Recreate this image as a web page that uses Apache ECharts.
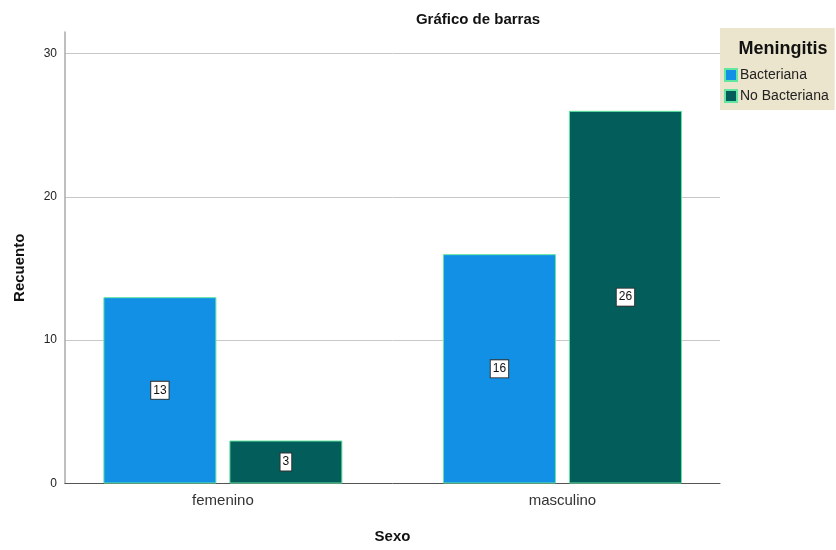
<!DOCTYPE html>
<html>
<head>
<meta charset="utf-8">
<script src="https://cdn.jsdelivr.net/npm/echarts@6/dist/echarts.min.js"></script>
<style>
  html, body { margin: 0; padding: 0; background: #fff; }
  #chart { width: 836px; height: 550px; }
</style>
</head>
<body>
<div id="chart"></div>
<script>
// Recuento por sexo y tipo de meningitis
const categories = ['femenino', 'masculino'];
const seriesNames = ['Bacteriana', 'No Bacteriana'];
const bacteriana = [13, 16];
const noBacteriana = [3, 26];
const yTicks = [0, 10, 20, 30];

const FONT = 'Liberation Sans, Arial, sans-serif';
const colors = ['#1190e6', '#025d5b'];
const edge = '#62e6a2';

const toPoints = vals => categories.map((c, i) => [i, vals[i]]);

const labelStyle = {
  show: true,
  position: 'inside',
  color: '#111',
  fontFamily: FONT,
  fontSize: 12,
  backgroundColor: '#fff',
  borderColor: '#333',
  borderWidth: 1,
  padding: [3, 2, 2, 2]
};

const chart = echarts.init(document.getElementById('chart'), null, { renderer: 'canvas' });
chart.setOption({
  animation: false,
  textStyle: { fontFamily: FONT },
  title: [
    {
      text: 'Gráfico de barras',
      left: 473, top: 7, textAlign: 'center',
      textStyle: { fontFamily: FONT, fontSize: 15, fontWeight: 'bold', color: '#111' }
    },
    {
      text: 'Meningitis',
      left: 778, top: 35, textAlign: 'center',
      textStyle: { fontFamily: FONT, fontSize: 18, fontWeight: 'bold', color: '#111' }
    }
  ],
  legend: {
    orient: 'vertical',
    left: 720, top: 28,
    backgroundColor: '#ece5cd',
    padding: [40, 6, 7, 4],
    itemGap: 7,
    itemWidth: 12, itemHeight: 12,
    icon: 'rect',
    data: seriesNames,
    textStyle: { fontFamily: FONT, fontSize: 14, color: '#222', padding: [0, 0, 0, -2] }
  },
  grid: { left: 65, right: 116, top: 32, bottom: 66.5, containLabel: false },
  xAxis: {
    type: 'value',
    min: -0.465, max: 1.464,
    name: 'Sexo',
    nameLocation: 'middle',
    nameGap: 46,
    nameTextStyle: { fontFamily: FONT, fontSize: 15, fontWeight: 'bold', color: '#111' },
    axisLine: { show: true, onZero: false, lineStyle: { color: '#555', width: 1 } },
    axisTick: { show: false },
    splitLine: { show: false },
    axisLabel: {
      customValues: categories.map((c, i) => i),
      formatter: v => categories[Math.round(v)] || '',
      fontFamily: FONT, fontSize: 15, color: '#333', margin: 10
    }
  },
  yAxis: {
    type: 'value',
    min: 0, max: 31.5, interval: 10,
    name: 'Recuento',
    nameLocation: 'middle',
    nameGap: 38,
    nameRotate: 90,
    nameTextStyle: { fontFamily: FONT, fontSize: 15, fontWeight: 'bold', color: '#111', padding: [0, 0, 0, -20] },
    axisLine: { show: true, onZero: false, lineStyle: { color: '#aaa', width: 1.5 } },
    axisTick: { show: false },
    splitLine: { show: true, showMaxLine: false, showMinLine: false, lineStyle: { color: '#c8c8c8', width: 1 } },
    axisLabel: {
      customValues: yTicks,
      fontFamily: FONT, fontSize: 12, color: '#222', margin: 8
    }
  },
  series: [
    {
      name: seriesNames[0],
      type: 'bar',
      data: toPoints(bacteriana),
      barWidth: 113,
      barGap: '11.5%',
      itemStyle: { color: colors[0], borderColor: edge, borderWidth: 1 },
      label: labelStyle
    },
    {
      name: seriesNames[1],
      type: 'bar',
      data: toPoints(noBacteriana),
      barWidth: 113,
      barGap: '11.5%',
      itemStyle: { color: colors[1], borderColor: edge, borderWidth: 1 },
      label: labelStyle
    }
  ]
});
</script>
</body>
</html>
